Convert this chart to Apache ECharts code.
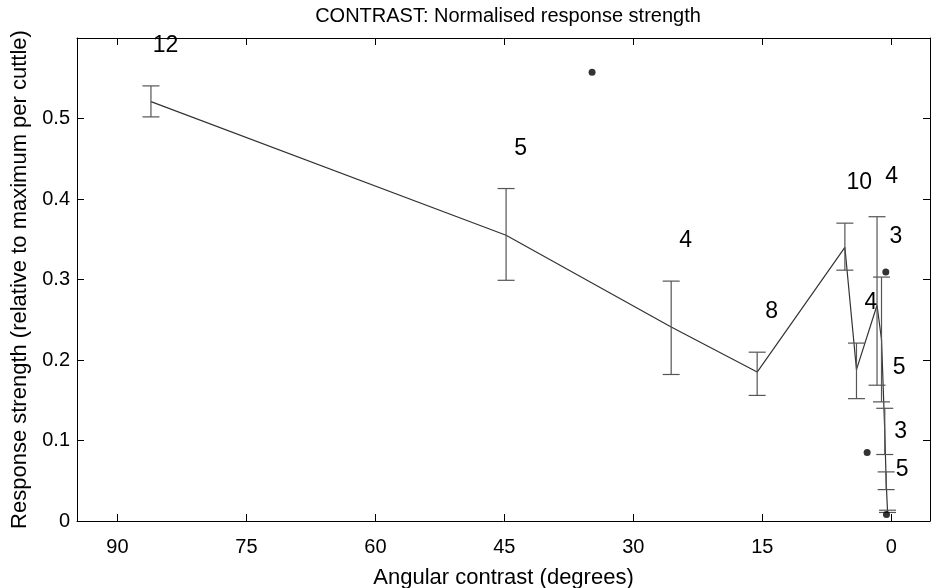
<!DOCTYPE html>
<html>
<head>
<meta charset="utf-8">
<script src="https://cdn.jsdelivr.net/npm/echarts@6/dist/echarts.min.js"></script>
<style>
html,body{margin:0;padding:0;background:#fff;}
#chart{width:934px;height:588px;}
</style>
</head>
<body>
<div id="chart"></div>
<script>
// Angular contrast (degrees) of each tested condition
var angles = [86.1, 44.8, 25.6, 15.6, 5.4, 4.05, 1.66, 1.14, 0.76, 0.60, 0.44];
// Mean normalised response strength
var means = [0.521, 0.355, 0.241, 0.185, 0.340, 0.188, 0.268, 0.2255, 0.111, 0.050, 0.012];
// Error bar upper and lower ends
var errTop = [0.5405, 0.413, 0.298, 0.2097, 0.370, 0.221, 0.378, 0.303, 0.140, 0.061, 0.0134];
var errBottom = [0.502, 0.299, 0.182, 0.156, 0.3116, 0.152, 0.1687, 0.148, 0.0826, 0.039, 0.0106];
// Number of animals (N) per condition
var nLabels = ['12', '5', '4', '8', '10', '4', '4', '3', '5', '3', '5'];
// Isolated single data points
var dotsX = [34.8, 0.64, 2.81, 0.56];
var dotsY = [0.5575, 0.3094, 0.085, 0.008];
// Tick values
var xTicks = [0, 15, 30, 45, 60, 75, 90];
var yTicks = [0, 0.1, 0.2, 0.3, 0.4, 0.5];

var FONT = "'Liberation Sans', Arial, Helvetica, sans-serif";
var labelOffsetY = 0.05;

var chart = echarts.init(document.getElementById('chart'));

var lineData = angles.map(function (a, i) { return [a, means[i]]; });
var errData = angles.map(function (a, i) { return [a, errBottom[i], errTop[i], i]; });
var dotData = dotsX.map(function (x, i) { return [x, dotsY[i]]; });

var xBase = {
  type: 'value', min: -4.5, max: 94.7, inverse: true,
  splitLine: { show: false },
  axisLine: { show: true, onZero: false, lineStyle: { color: '#000', width: 1 } },
  axisTick: { show: true, inside: true, length: 7, customValues: xTicks, lineStyle: { color: '#000' } }
};
var yBase = {
  type: 'value', min: 0, max: 0.6,
  splitLine: { show: false },
  axisLine: { show: true, onZero: false, lineStyle: { color: '#000', width: 1 } },
  axisTick: { show: true, inside: true, length: 7, customValues: yTicks, lineStyle: { color: '#000' } }
};

var option = {
  backgroundColor: '#fff',
  animation: false,
  title: {
    text: 'CONTRAST: Normalised response strength',
    left: 503, top: 1, textAlign: 'center',
    textStyle: { fontFamily: FONT, fontSize: 20, fontWeight: 'normal', color: '#000' }
  },
  grid: { left: 77, right: 4, top: 38, bottom: 67, containLabel: false, outerBoundsMode: 'none' },
  xAxis: [
    Object.assign({}, xBase, {
      position: 'bottom',
      name: 'Angular contrast (degrees)', nameLocation: 'middle', nameGap: 46,
      nameTextStyle: { fontFamily: FONT, fontSize: 22, color: '#000' },
      axisLabel: { show: true, customValues: xTicks, margin: 16, fontFamily: FONT, fontSize: 20, color: '#000' }
    }),
    Object.assign({}, xBase, { position: 'top', axisLabel: { show: false } })
  ],
  yAxis: [
    Object.assign({}, yBase, {
      position: 'left',
      name: 'Response strength (relative to maximum per cuttle)', nameLocation: 'middle', nameGap: 45,
      nameTextStyle: { fontFamily: FONT, fontSize: 22, color: '#000' },
      axisLabel: { show: true, customValues: yTicks, margin: 7, fontFamily: FONT, fontSize: 20, color: '#000',
        formatter: function (v) { return String(Math.round(v * 10) / 10); } }
    }),
    Object.assign({}, yBase, { position: 'right', axisLabel: { show: false } })
  ],
  series: [
    {
      type: 'line', data: lineData, xAxisIndex: 0, yAxisIndex: 0,
      showSymbol: false, symbol: 'none', smooth: false,
      lineStyle: { color: '#333', width: 1.2 }, z: 3
    },
    {
      type: 'custom', data: errData, xAxisIndex: 0, yAxisIndex: 0, z: 4,
      renderItem: function (params, api) {
        var x = api.value(0), lo = api.value(1), hi = api.value(2), idx = api.value(3);
        var pLo = api.coord([x, lo]);
        var pHi = api.coord([x, hi]);
        var pLab = api.coord([x, hi + labelOffsetY]);
        var hw = 8.5;
        var st = { stroke: '#555', lineWidth: 1.2 };
        return {
          type: 'group',
          children: [
            { type: 'line', shape: { x1: pLo[0], y1: pLo[1], x2: pHi[0], y2: pHi[1] }, style: st },
            { type: 'line', shape: { x1: pLo[0] - hw, y1: pLo[1], x2: pLo[0] + hw, y2: pLo[1] }, style: st },
            { type: 'line', shape: { x1: pHi[0] - hw, y1: pHi[1], x2: pHi[0] + hw, y2: pHi[1] }, style: st },
            { type: 'text', style: { text: nLabels[idx], x: pLab[0] + 14.5, y: pLab[1],
                fill: '#000', font: '23px ' + FONT, align: 'center', verticalAlign: 'middle' } }
          ]
        };
      }
    },
    {
      type: 'scatter', data: dotData, xAxisIndex: 0, yAxisIndex: 0,
      symbol: 'circle', symbolSize: 7, itemStyle: { color: '#000' }, z: 5
    }
  ]
};
chart.setOption(option);
</script>
</body>
</html>
